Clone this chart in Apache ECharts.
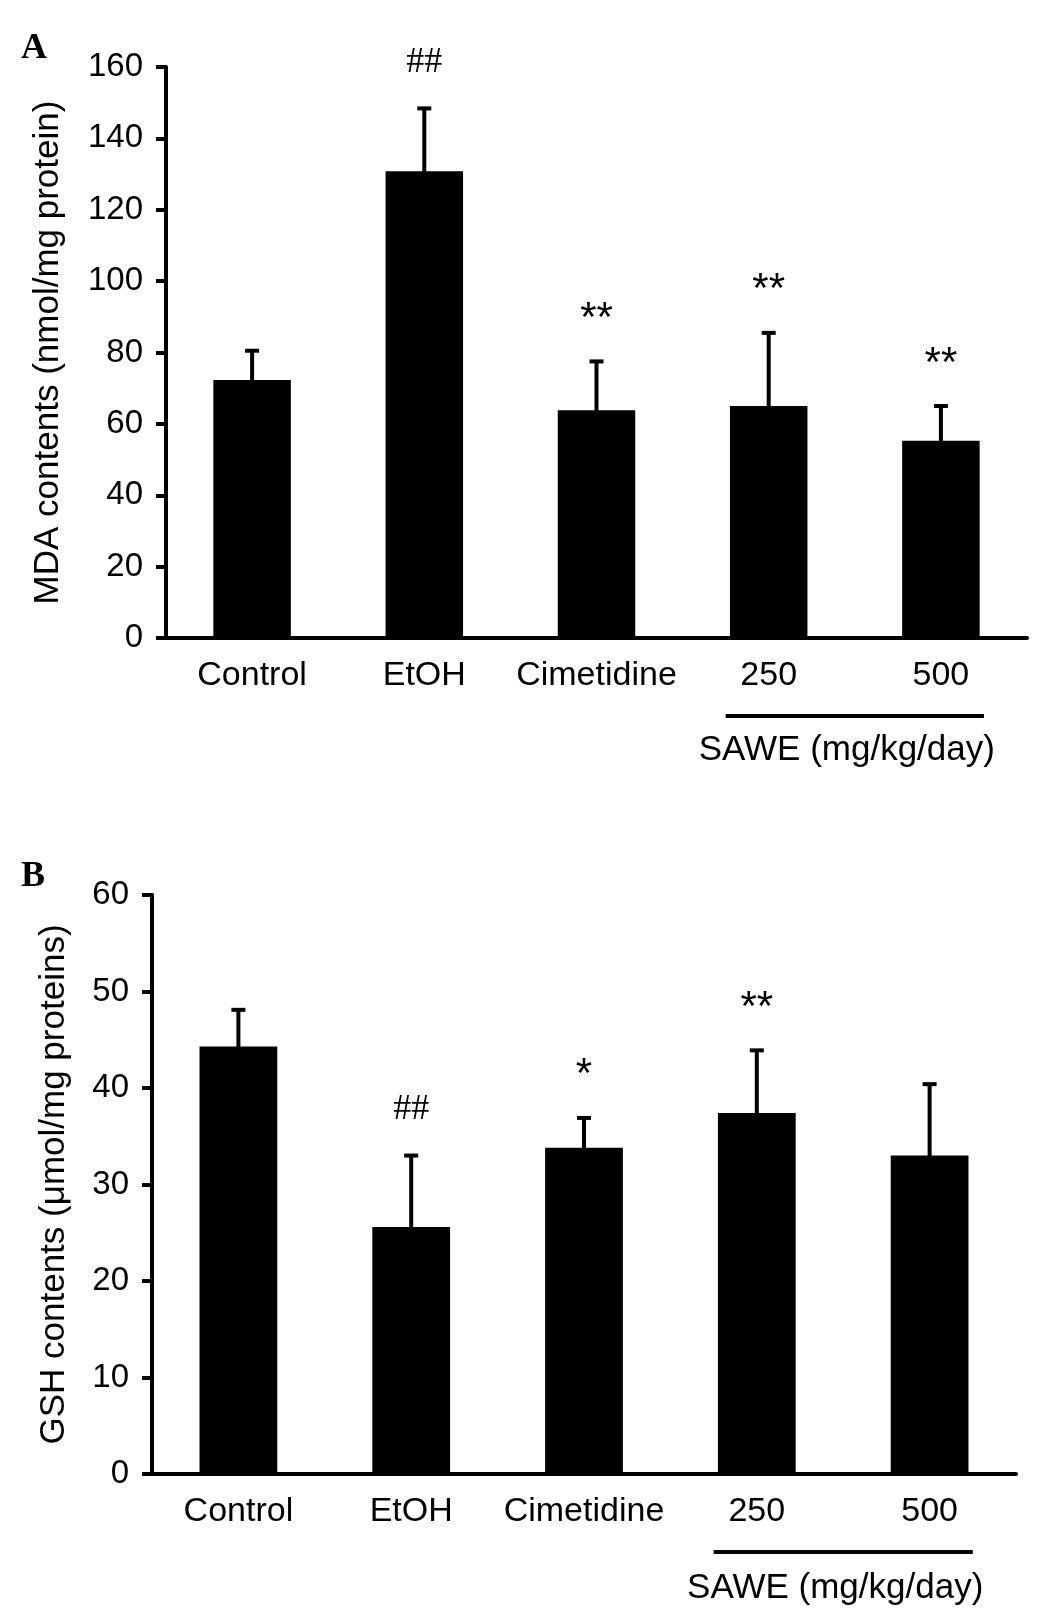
<!DOCTYPE html>
<html>
<head>
<meta charset="utf-8">
<script src="https://cdn.jsdelivr.net/npm/echarts@6/dist/echarts.min.js"></script>
<style>
  html, body { margin: 0; padding: 0; background: #ffffff; }
  #chart { width: 1048px; height: 1620px; }
</style>
</head>
<body>
<div id="chart"></div>
<script>
// ---- data ----
const categories = ['Control', 'EtOH', 'Cimetidine', '250', '500'];

const mdaMean  = [72.3, 130.8, 63.8, 65.0, 55.3];
const mdaUpper = [80.5, 148.4, 77.5, 85.5, 65.0];
const mdaMarks = ['', '##', '**', '**', '**'];
const mdaAxis  = { min: 0, max: 160, interval: 20 };

const gshMean  = [44.3, 25.6, 33.8, 37.4, 33.0];
const gshUpper = [48.1, 33.0, 36.9, 43.9, 40.4];
const gshMarks = ['', '##', '*', '**', ''];
const gshAxis  = { min: 0, max: 60, interval: 10 };

const panelLetters = ['A', 'B'];
const doseGroupLabel = 'SAWE (mg/kg/day)';
const doseGroupCats = ['250', '500'];
const yNames = ['MDA contents (nmol/mg protein)', 'GSH contents (\u03bcmol/mg proteins)'];

// ---- chart ----
const FONT = '"Liberation Sans", Arial, Helvetica, sans-serif';
const SERIF = '"Liberation Serif", "Times New Roman", serif';
const chart = echarts.init(document.getElementById('chart'), null, { renderer: 'canvas' });

function xAxisCfg(gridIndex) {
  return {
    type: 'category',
    gridIndex: gridIndex,
    data: categories,
    boundaryGap: true,
    axisLine: { show: true, lineStyle: { color: '#000', width: 4 } },
    axisTick: { show: false },
    axisLabel: { color: '#000', fontFamily: FONT, fontSize: 34, margin: 21, interval: 0 },
    splitLine: { show: false }
  };
}
function yAxisCfg(gridIndex, ax, name, gap) {
  return {
    type: 'value',
    gridIndex: gridIndex,
    min: ax.min, max: ax.max, interval: ax.interval,
    name: name,
    nameLocation: 'middle',
    nameRotate: 90,
    nameGap: gap,
    nameTextStyle: { color: '#000', fontFamily: FONT, fontSize: 35 },
    axisLine: { show: true, lineStyle: { color: '#000', width: 4 } },
    axisTick: { show: true, inside: false, length: 10, lineStyle: { color: '#000', width: 4 } },
    axisLabel: { color: '#000', fontFamily: FONT, fontSize: 33, margin: 23 },
    splitLine: { show: false }
  };
}

function errorSeries(idx, mean, upper, marks) {
  return {
    type: 'custom',
    xAxisIndex: idx, yAxisIndex: idx,
    z: 10,
    clip: false,
    data: mean.map((m, i) => [i, m, upper[i]]),
    renderItem: function (params, api) {
      const base = api.coord([api.value(0), api.value(1)]);
      const top = api.coord([api.value(0), api.value(2)]);
      const x = base[0];
      const mark = marks[params.dataIndex];
      const children = [
        { type: 'line', shape: { x1: x, y1: base[1] + 2, x2: x, y2: top[1] }, style: { stroke: '#000', lineWidth: 4 } },
        { type: 'line', shape: { x1: x - 7, y1: top[1], x2: x + 7, y2: top[1] }, style: { stroke: '#000', lineWidth: 4 } }
      ];
      if (mark) {
        const isHash = mark.indexOf('#') >= 0;
        children.push({
          type: 'text',
          style: {
            text: mark,
            x: x,
            y: isHash ? top[1] - 46 : top[1] - 42,
            align: 'center',
            verticalAlign: 'middle',
            fill: '#000',
            font: isHash ? ('36px ' + SERIF) : ('42px ' + FONT)
          }
        });
      }
      return { type: 'group', children: children };
    }
  };
}

chart.setOption({
  backgroundColor: '#ffffff',
  animation: false,
  grid: [
    { left: 166, right: 21, top: 67, height: 571 },
    { left: 152, right: 32, top: 895, height: 579 }
  ],
  xAxis: [xAxisCfg(0), xAxisCfg(1)],
  yAxis: [
    yAxisCfg(0, mdaAxis, yNames[0], 100),
    yAxisCfg(1, gshAxis, yNames[1], 80)
  ],
  series: [
    { type: 'bar', xAxisIndex: 0, yAxisIndex: 0, data: mdaMean, barWidth: '45%', itemStyle: { color: '#000' } },
    errorSeries(0, mdaMean, mdaUpper, mdaMarks),
    { type: 'bar', xAxisIndex: 1, yAxisIndex: 1, data: gshMean, barWidth: '45%', itemStyle: { color: '#000' } },
    errorSeries(1, gshMean, gshUpper, gshMarks)
  ]
});

// dose group bracket + panel letters, positioned from the axes
const graphics = [];
[0, 1].forEach(function (g) {
  const p1 = chart.convertToPixel({ gridIndex: g }, [doseGroupCats[0], 0]);
  const p2 = chart.convertToPixel({ gridIndex: g }, [doseGroupCats[1], 0]);
  const band = (p2[0] - p1[0]);
  const half = band / 4;
  graphics.push({
    type: 'line',
    shape: { x1: p1[0] - half, y1: p1[1] + 78, x2: p2[0] + half, y2: p1[1] + 78 },
    style: { stroke: '#000', lineWidth: 4 }
  });
  graphics.push({
    type: 'text',
    style: {
      text: doseGroupLabel,
      x: (p1[0] + p2[0]) / 2 - 8,
      y: p1[1] + (g === 0 ? 112 : 114),
      align: 'center',
      verticalAlign: 'middle',
      fill: '#000',
      font: '35px ' + FONT
    }
  });
  const topPx = chart.convertToPixel({ gridIndex: g }, [categories[0], g === 0 ? mdaAxis.max : gshAxis.max]);
  graphics.push({
    type: 'text',
    style: {
      text: panelLetters[g],
      x: 21,
      y: topPx[1] - 18,
      align: 'left',
      verticalAlign: 'middle',
      fill: '#000',
      font: 'bold 36px ' + SERIF
    }
  });
});
chart.setOption({ graphic: graphics });
</script>
</body>
</html>
